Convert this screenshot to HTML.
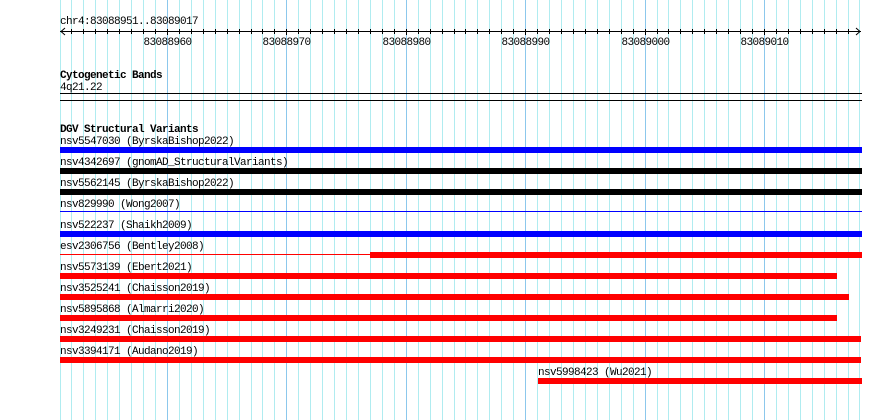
<!DOCTYPE html>
<html><head><meta charset="utf-8"><style>
html,body{margin:0;padding:0;background:#fff;}
svg{display:block;}
text{font-family:"Liberation Mono","DejaVu Sans Mono",monospace;font-size:11px;letter-spacing:-0.6px;fill:#000;}
.b{font-weight:bold;}
</style></head><body>
<svg id="s" width="890" height="420" xmlns="http://www.w3.org/2000/svg" shape-rendering="crispEdges">
<g id="grid"></g>
<text x="60" y="24">chr4:83088951..83089017</text>
<line x1="60" y1="31.5" x2="861" y2="31.5" stroke="#000"/>
<polyline points="65,28 61,31.5 65,35" fill="none" stroke="#000" shape-rendering="auto"/>
<polyline points="856,28 860,31.5 856,35" fill="none" stroke="#000" shape-rendering="auto"/>
<g id="ticks"></g>
<text class="b" x="60" y="78">Cytogenetic Bands</text>
<text x="60" y="90">4q21.22</text>
<line x1="60" y1="93.5" x2="862" y2="93.5" stroke="#000"/>
<line x1="60" y1="100.5" x2="862" y2="100.5" stroke="#000"/>
<text class="b" x="60" y="132">DGV Structural Variants</text>

<text x="60" y="144">nsv5547030 (ByrskaBishop2022)</text>
<rect x="60" y="147" width="802" height="6" fill="#0000ff"/>
<text x="60" y="165">nsv4342697 (gnomAD_StructuralVariants)</text>
<rect x="60" y="168" width="802" height="6" fill="#000"/>
<text x="60" y="186">nsv5562145 (ByrskaBishop2022)</text>
<rect x="60" y="189" width="802" height="6" fill="#000"/>
<text x="60" y="207">nsv829990 (Wong2007)</text>
<rect x="60" y="211" width="802" height="1" fill="#0000ff"/>
<text x="60" y="228">nsv522237 (Shaikh2009)</text>
<rect x="60" y="231" width="802" height="6" fill="#0000ff"/>
<text x="60" y="249">esv2306756 (Bentley2008)</text>
<rect x="60" y="254" width="310" height="1" fill="#ff0000"/>
<rect x="370" y="252" width="492" height="6" fill="#ff0000"/>
<text x="60" y="270">nsv5573139 (Ebert2021)</text>
<rect x="60" y="273" width="777" height="6" fill="#ff0000"/>
<text x="60" y="291">nsv3525241 (Chaisson2019)</text>
<rect x="60" y="294" width="789" height="6" fill="#ff0000"/>
<text x="60" y="312">nsv5895868 (Almarri2020)</text>
<rect x="60" y="315" width="777" height="6" fill="#ff0000"/>
<text x="60" y="333">nsv3249231 (Chaisson2019)</text>
<rect x="60" y="336" width="801" height="6" fill="#ff0000"/>
<text x="60" y="354">nsv3394171 (Audano2019)</text>
<rect x="60" y="357" width="801" height="6" fill="#ff0000"/>
<text x="538" y="375">nsv5998423 (Wu2021)</text>
<rect x="538" y="378" width="324" height="6" fill="#ff0000"/>
</svg>
<script>
var ns="http://www.w3.org/2000/svg",g=document.getElementById("grid"),t=document.getElementById("ticks");
for(var k=0;k<=67;k++){
 var x=Math.round(59.5+k*11.94)+0.5;
 var major=((83088951+k)%10==0);
 var l=document.createElementNS(ns,"line");
 l.setAttribute("x1",x);l.setAttribute("x2",x);l.setAttribute("y1",0);l.setAttribute("y2",420);
 l.setAttribute("stroke",major?"#8cc8ec":"#b0ecf0");g.appendChild(l);
 if(k>0&&k<67){
 var m=document.createElementNS(ns,"line");
 m.setAttribute("x1",x);m.setAttribute("x2",x);m.setAttribute("y1",29);m.setAttribute("y2",major?35:34);
 m.setAttribute("stroke","#000");t.appendChild(m);}
 if(major){var tx=document.createElementNS(ns,"text");tx.setAttribute("x",x);tx.setAttribute("y",45);
 tx.setAttribute("text-anchor","middle");tx.textContent=String(83088951+k);t.appendChild(tx);}
}
</script>
</body></html>
